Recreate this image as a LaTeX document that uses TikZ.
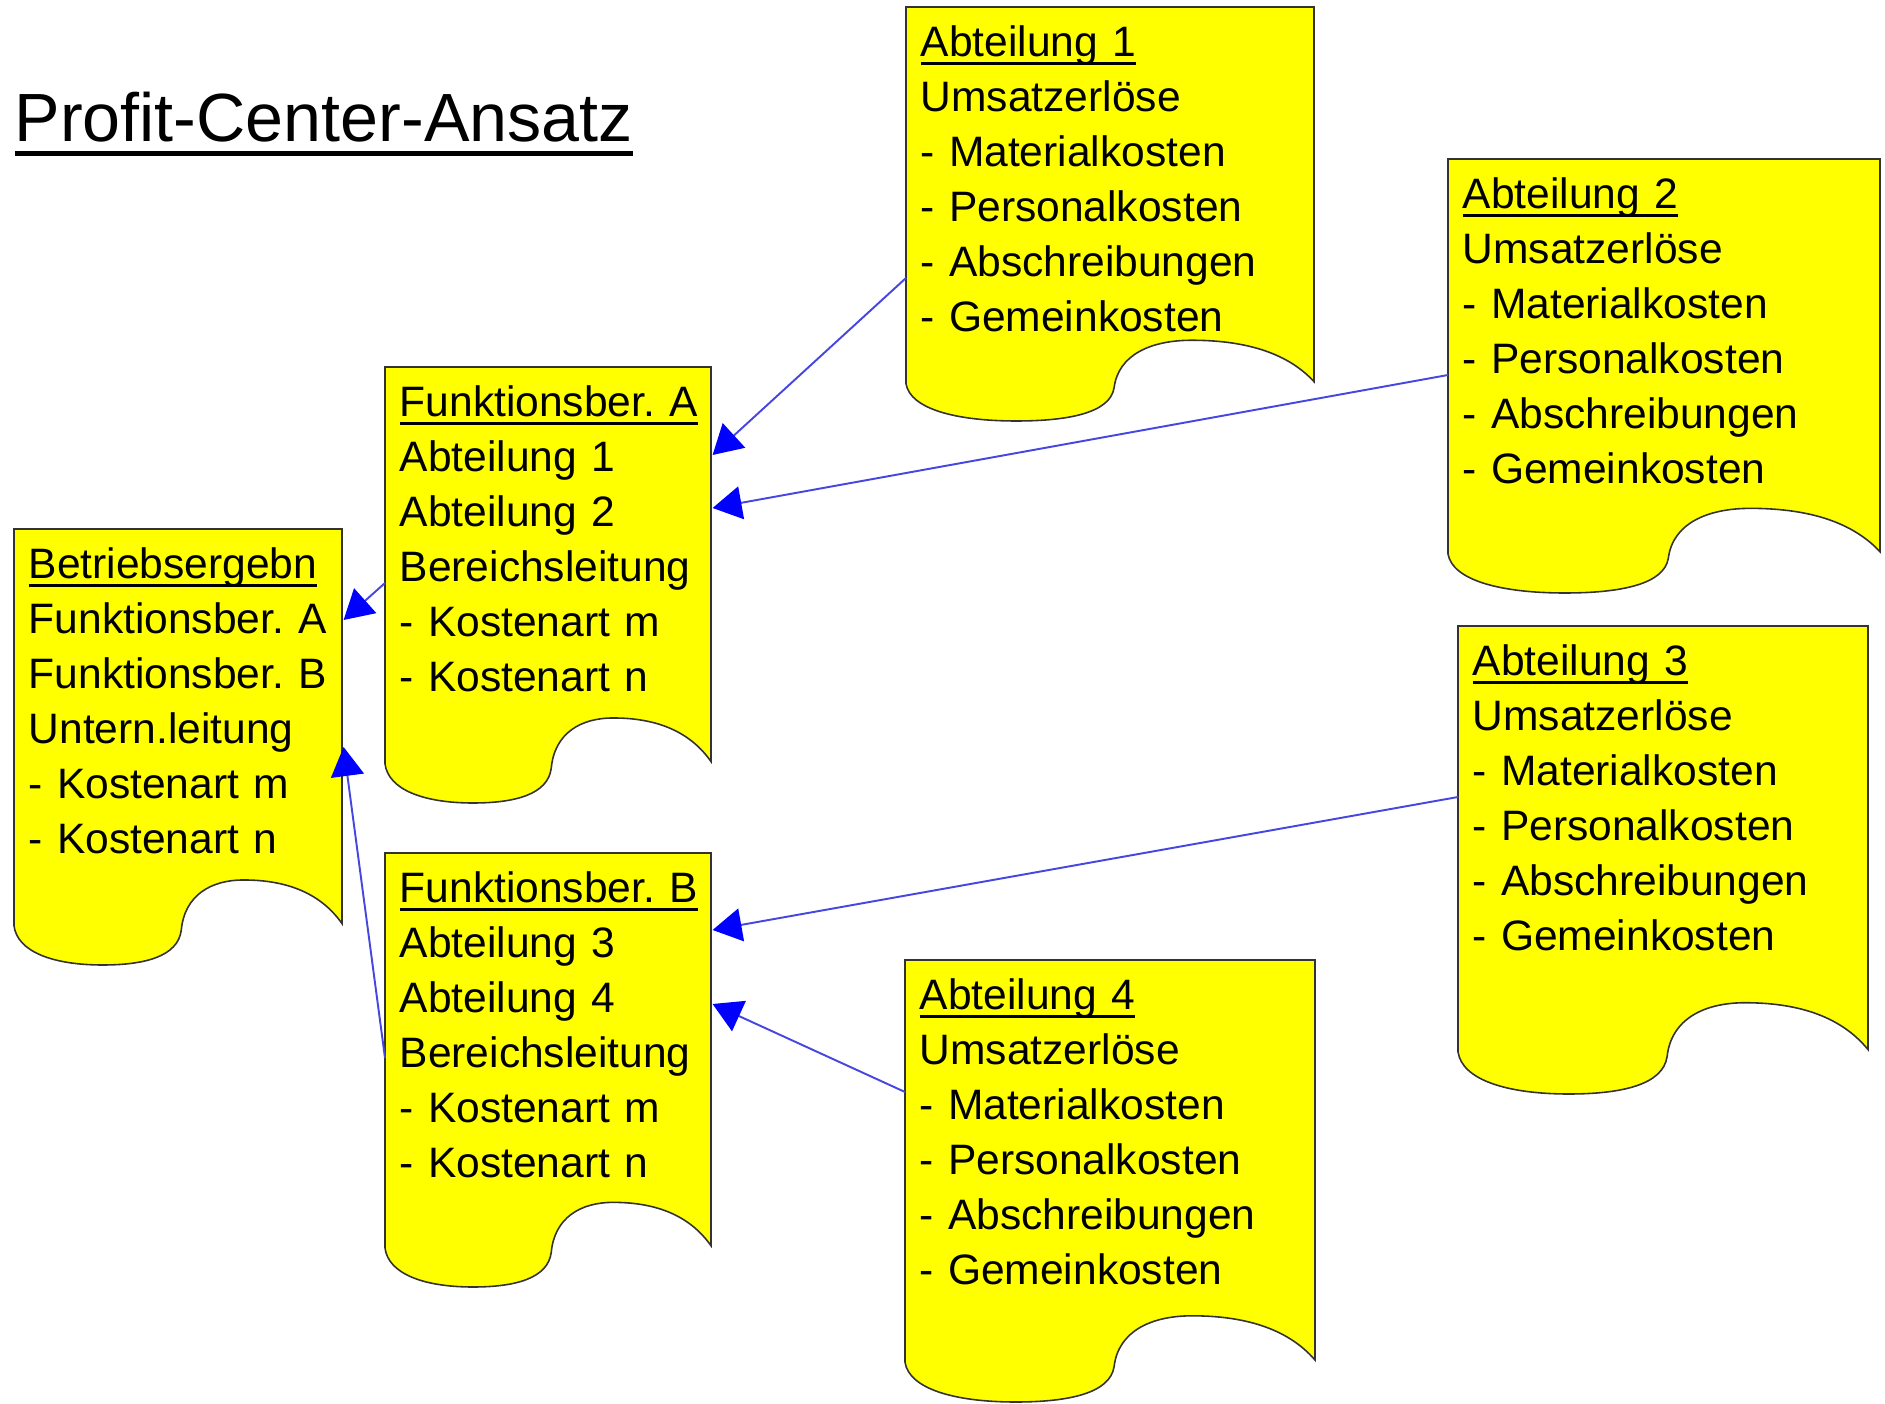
\documentclass[tikz,border=0pt]{standalone}
\usepackage{fontspec}
\setmainfont{Liberation Sans}
\usetikzlibrary{arrows.meta,calc}

\definecolor{docyellow}{RGB}{255,255,0}
\definecolor{feedline}{RGB}{70,70,225}
\definecolor{feedtip}{RGB}{0,0,255}

% underlined first line of a sheet
\newcommand{\headline}[1]{\setbox0\hbox{#1}\rlap{\rule[-0.2em]{\wd0}{0.07em}}\box0}

% document sheet with wavy lower edge: x, y, width, height (in px)
\newcommand{\docshape}[4]{%
  \filldraw[docline] (#1,#2) -- (#1+#3,#2) -- (#1+#3,#2+0.905*#4)
    .. controls (#1+0.93*#3,#2+0.83*#4) and (#1+0.82*#3,#2+0.805*#4) .. (#1+0.70*#3,#2+0.805*#4)
    .. controls (#1+0.60*#3,#2+0.805*#4) and (#1+0.52*#3,#2+0.84*#4) .. (#1+0.51*#3,#2+0.92*#4)
    .. controls (#1+0.50*#3,#2+0.98*#4) and (#1+0.40*#3,#2+#4) .. (#1+0.27*#3,#2+#4)
    .. controls (#1+0.12*#3,#2+#4) and (#1+0.01*#3,#2+0.97*#4) .. (#1,#2+0.91*#4)
    -- cycle;}

\tikzset{
  docline/.style={draw=black!80, line width=0.45pt, fill=docyellow},
  docnode/.style={anchor=north west, align=left, inner xsep=0.14cm, inner ysep=0.1cm,
    font=\fontsize{12.1pt}{15.65pt}\selectfont},
  feed/.style={draw=feedline, line width=0.55pt,
    -{Triangle[length=0.29cm,width=0.33cm,color=feedtip]}},
}

\begin{document}
\begin{tikzpicture}[x=0.01cm, y=-0.01cm]
  \useasboundingbox (0,0) rectangle (1885,1404);

  \node[anchor=base west, inner sep=0pt, font=\fontsize{19.4pt}{23pt}\selectfont]
    (title) at (14,142) {\headline{Profit-Center-Ansatz}};

  \docshape{14}{529}{328}{436}
  \node[docnode, text width=3.00cm] (betrieb) at (14,529)
    {\strut\headline{Betriebsergebn}\\ Funktionsber.~A\\ Funktionsber.~B\\
     Untern.leitung\\ -~Kostenart~m\\ -~Kostenart~n};

  \docshape{385}{367}{326}{436}
  \node[docnode, text width=2.98cm] (funkA) at (385,367)
    {\strut\headline{Funktionsber.~A}\\ Abteilung~1\\ Abteilung~2\\
     Bereichsleitung\\ -~Kostenart~m\\ -~Kostenart~n};

  \docshape{385}{853}{326}{434}
  \node[docnode, text width=2.98cm] (funkB) at (385,853)
    {\strut\headline{Funktionsber.~B}\\ Abteilung~3\\ Abteilung~4\\
     Bereichsleitung\\ -~Kostenart~m\\ -~Kostenart~n};

  \docshape{906}{7}{408}{414}
  \node[docnode, text width=3.80cm] (abt1) at (906,7)
    {\strut\headline{Abteilung 1}\\ Umsatzerlöse\\ - Materialkosten\\
     - Personalkosten\\ - Abschreibungen\\ - Gemeinkosten};

  \docshape{1448}{159}{432}{434}
  \node[docnode, text width=4.04cm] (abt2) at (1448,159)
    {\strut\headline{Abteilung 2}\\ Umsatzerlöse\\ - Materialkosten\\
     - Personalkosten\\ - Abschreibungen\\ - Gemeinkosten};

  \docshape{1458}{626}{410}{468}
  \node[docnode, text width=3.82cm] (abt3) at (1458,626)
    {\strut\headline{Abteilung 3}\\ Umsatzerlöse\\ - Materialkosten\\
     - Personalkosten\\ - Abschreibungen\\ - Gemeinkosten};

  \docshape{905}{960}{410}{442}
  \node[docnode, text width=3.82cm] (abt4) at (905,960)
    {\strut\headline{Abteilung 4}\\ Umsatzerlöse\\ - Materialkosten\\
     - Personalkosten\\ - Abschreibungen\\ - Gemeinkosten};

  \begin{scope}
    \draw[feed] ($(abt1.north west)+(0,271)$) -- ($(funkA.north east)+(0,88)$);
    \draw[feed] ($(abt2.north west)+(0,216)$) -- ($(funkA.north east)+(0,141)$);
    \draw[feed] ($(abt3.north west)+(0,171)$) -- ($(funkB.north east)+(0,77)$);
    \draw[feed] ($(abt4.north west)+(0,132)$) -- ($(funkB.north east)+(0,151)$);
    \draw[feed] ($(funkA.north west)+(0,216)$) -- ($(betrieb.north east)+(0,91)$);
    \draw[feed] ($(funkB.north west)+(0,205)$) -- ($(betrieb.north east)+(0,218)$);
  \end{scope}
\end{tikzpicture}
\end{document}
